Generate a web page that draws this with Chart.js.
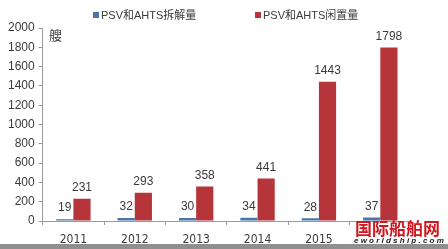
<!DOCTYPE html>
<html>
<head>
<meta charset="utf-8">
<script src="https://cdn.jsdelivr.net/npm/chart.js@4"></script>
<style>
  html, body { margin: 0; padding: 0; background: #fff; }
  canvas { display: block; }
</style>
</head>
<body>
<canvas id="chart" width="448" height="249"></canvas>
<script>
// data
const years = ["2011", "2012", "2013", "2014", "2015", "2016"];
const scrapped = [19, 32, 30, 34, 28, 37];
const idle = [231, 293, 358, 441, 1443, 1798];
const seriesNames = ["PSV和AHTS拆解量", "PSV和AHTS闲置量"];
const yTicks = { min: 0, max: 2000, step: 200 };

const blue = "#4a74ab";
const red = "#b5353b";
const textColor = "#3a3a3a";
const latin = "'Liberation Sans', 'Noto Sans CJK SC', sans-serif";
const narrow = "'Liberation Sans Narrow', 'DejaVu Sans Condensed', 'Liberation Sans', sans-serif";

// values on top of the bars
const valueLabels = {
  id: "valueLabels",
  afterDatasetsDraw(chart) {
    const ctx = chart.ctx;
    ctx.save();
    ctx.font = "12px " + latin;
    ctx.fillStyle = textColor;
    ctx.textAlign = "center";
    ctx.textBaseline = "middle";
    chart.data.datasets.forEach((ds, i) => {
      chart.getDatasetMeta(i).data.forEach((bar, j) => {
        ctx.fillText(ds.data[j], bar.x, bar.y - 11);
      });
    });
    ctx.restore();
  }
};

// legend, unit, watermark
const extras = {
  id: "extras",
  afterDraw(chart) {
    const ctx = chart.ctx;
    ctx.save();
    ctx.font = "11px " + latin;
    ctx.textBaseline = "middle";
    const legendX = [93, 255];
    chart.data.datasets.forEach((ds, i) => {
      ctx.fillStyle = ds.backgroundColor;
      ctx.fillRect(legendX[i], 12, 6, 6);
      ctx.fillStyle = textColor;
      ctx.textAlign = "left";
      ctx.fillText(ds.label, legendX[i] + 8, 15.5);
    });

    ctx.font = "13px 'Noto Sans CJK SC', sans-serif";
    ctx.fillText("艘", 49, 35);

    // watermark over the last year label
    ctx.fillStyle = "#fff";
    ctx.fillRect(352, 223, 96, 21);
    ctx.fillStyle = "#d0161e";
    ctx.font = "bold 17px 'Noto Sans CJK SC', sans-serif";
    ctx.textAlign = "left";
    ctx.fillText("国际船舶网", 355, 229);
    ctx.fillStyle = "#222";
    ctx.font = "italic bold 8px " + latin;
    ctx.fillText("e w o r l d s h i p . c o m", 354, 240.5);

    ctx.fillStyle = "#8f8f8f";
    ctx.fillRect(0, 244, 448, 5);
    ctx.restore();
  }
};

new Chart(document.getElementById("chart"), {
  type: "bar",
  data: {
    labels: years,
    datasets: [
      { label: seriesNames[0], data: scrapped, backgroundColor: blue },
      { label: seriesNames[1], data: idle, backgroundColor: red }
    ]
  },
  options: {
    responsive: false,
    animation: false,
    devicePixelRatio: 1,
    layout: { padding: { top: 28, left: 4, right: 37, bottom: 0 } },
    datasets: { bar: { categoryPercentage: 0.56, barPercentage: 1 } },
    plugins: { legend: { display: false }, tooltip: { enabled: false } },
    scales: {
      x: {
        afterFit: (scale) => { scale.height = 28; },
        grid: { display: true, drawOnChartArea: false, offset: true, tickLength: 4, color: "#9a9a9a" },
        border: { color: "#9a9a9a" },
        ticks: { color: textColor, font: { size: 12, family: narrow }, padding: 8 }
      },
      y: {
        min: yTicks.min,
        max: yTicks.max,
        grid: { display: true, drawOnChartArea: false, tickLength: 4, color: "#9a9a9a" },
        border: { color: "#9a9a9a" },
        ticks: {
          stepSize: yTicks.step, color: textColor, font: { size: 12, family: latin }, padding: 4,
          callback: (v) => String(v)
        }
      }
    }
  },
  plugins: [valueLabels, extras]
});
</script>
</body>
</html>
